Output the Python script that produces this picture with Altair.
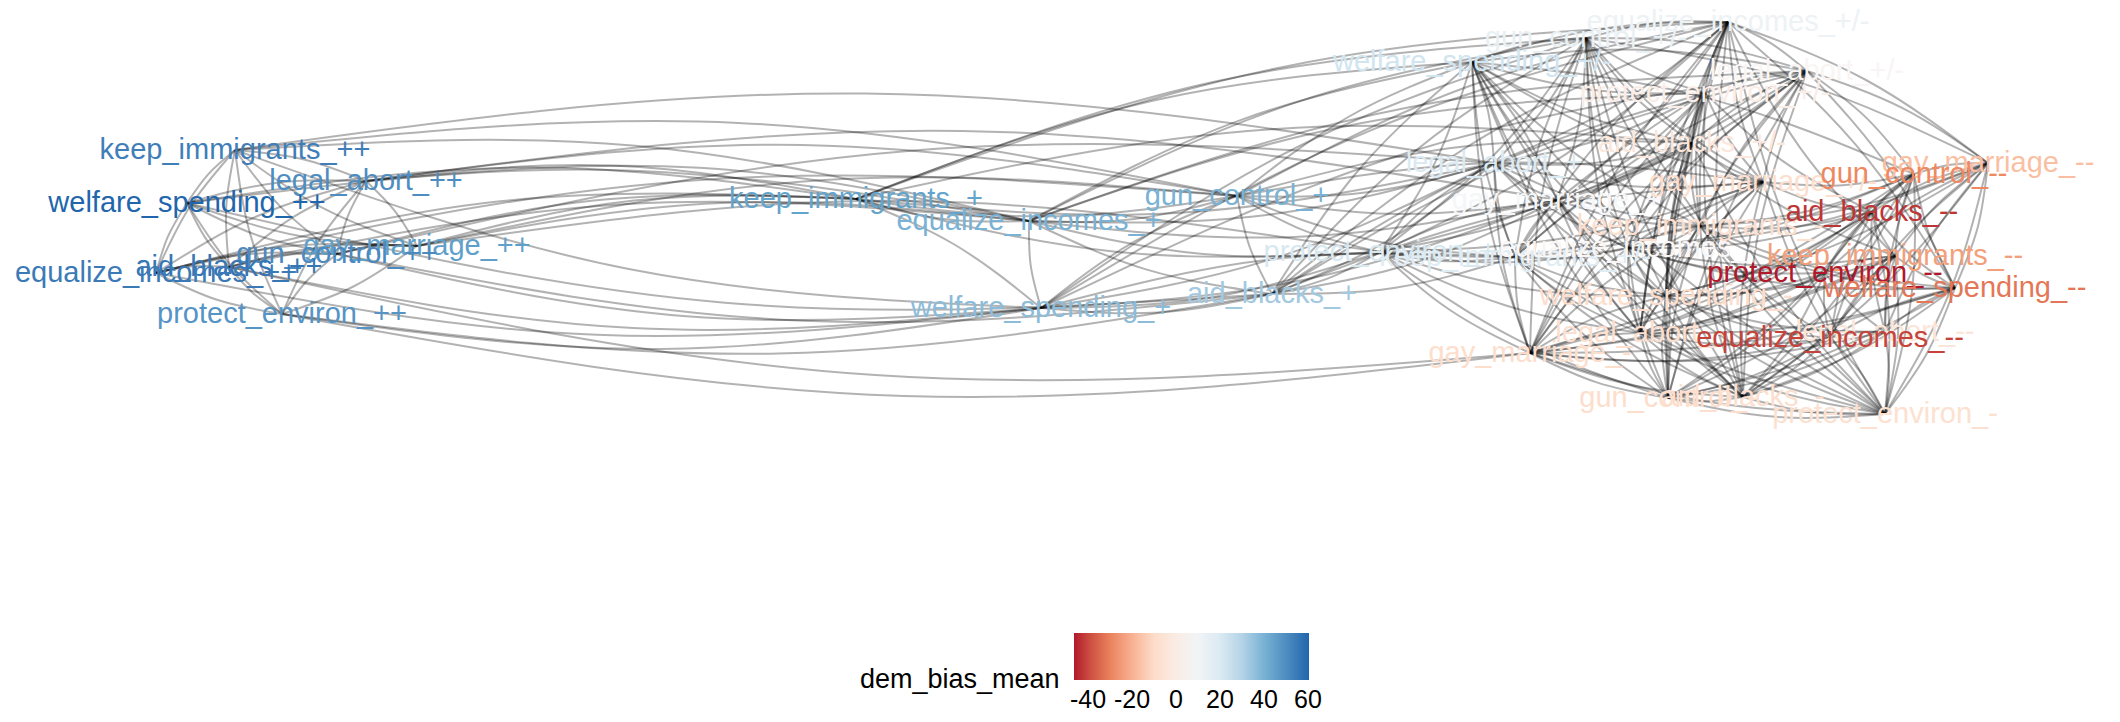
import altair as alt
import pandas as pd

# ---------------- data ----------------
node_names = [
    "keep_immigrants_++", "legal_abort_++", "welfare_spending_++", "gay_marriage_++",
    "gun_control_++", "aid_blacks_++", "equalize_incomes_++", "protect_environ_++",
    "keep_immigrants_+", "equalize_incomes_+", "gun_control_+", "welfare_spending_+",
    "aid_blacks_+", "legal_abort_+", "gay_marriage_+", "protect_environ_+",
    "welfare_spending_+/-", "gun_control_+/-", "equalize_incomes_+/-", "legal_abort_+/-",
    "protect_environ_+/-", "aid_blacks_+/-", "keep_immigrants_+/-", "gay_marriage_+/-",
    "keep_immigrants_-", "equalize_incomes_-", "welfare_spending_-", "legal_abort_-",
    "gay_marriage_-", "gun_control_-", "aid_blacks_-", "protect_environ_-",
    "gay_marriage_--", "gun_control_--", "aid_blacks_--", "keep_immigrants_--",
    "protect_environ_--", "welfare_spending_--", "legal_abort_--", "equalize_incomes_--",
]
node_codes = [
    "K1", "L1", "W1", "M1", "G1", "A1", "E1", "P1",
    "K2", "E2", "G2", "W2", "A2", "L2", "M2", "P2",
    "W3", "G3", "E3", "L3", "P3", "A3", "K3", "M3",
    "K4", "E4", "W4", "L4", "M4", "G4", "A4", "P4",
    "M5", "G5", "A5", "K5", "P5", "W5", "L5", "E5",
]
# layout coordinates (graph layout, y grows downward)
node_x = [
    235, 366, 187, 417, 337, 229, 156, 282,
    856, 1029, 1237, 1041, 1272, 1494, 1557, 1380,
    1472, 1586, 1728, 1807, 1705, 1692, 1515, 1763,
    1700, 1628, 1666, 1640, 1530, 1668, 1743, 1885,
    1988, 1914, 1872, 1895, 1825, 1955, 1885, 1830,
]
node_y = [
    150, 181, 203, 246, 254, 267, 273, 314,
    199, 221, 196, 308, 294, 163, 200, 252,
    62, 38, 22, 71, 93, 143, 257, 182,
    226, 248, 296, 333, 353, 398, 397, 414,
    163, 174, 212, 256, 273, 288, 332, 338,
]
dem_bias_mean = [
    54, 50, 60.5, 45, 51, 56, 55, 48,
    44, 40, 40, 37, 33, 20, 8, 22,
    25, 14, 12, 6, 1, -3, 18, -8,
    -8, 6, -9, -8, -9, -9, -8, -7,
    -17, -29, -43, -24, -46.4, -32, -4, -41,
]

edge_list = (
    # ++ cluster
    "L1 K1, M1 L1, P1 M1, E1 P1, W1 E1, K1 W1, K1 M1, K1 G1, K1 A1, K1 E1, K1 P1, "
    "L1 W1, L1 G1, L1 A1, L1 E1, L1 P1, W1 M1, W1 G1, W1 A1, W1 P1, M1 G1, M1 A1, "
    "M1 E1, G1 A1, G1 E1, G1 P1, A1 E1, A1 P1, "
    # ++ to the rest
    "E2 K1, G2 K1, L2 K1, K2 L1, G2 L1, M2 L1, E2 L1, K2 W1, E2 W1, K2 M1, E2 M1, "
    "P2 M1, G2 M1, K2 G1, L2 G1, K2 E1, G2 E1, E2 A1, K1 W2, W1 A2, G1 W2, G1 A2, "
    "A1 W2, A1 M4, E1 W2, P1 W2, P1 A2, P1 M4, "
    # + nodes
    "K2 E2, K2 G2, W2 K2, K2 L2, K2 P2, E2 G2, E2 W2, E2 A2, E2 M2, E2 P2, E2 L2, "
    "G2 A2, G2 W2, G2 L2, G2 M2, G2 P2, G2 K3, W2 A2, W2 P2, W2 M2, W2 L2, A2 P2, "
    "A2 M2, A2 L2, A2 K3, L2 M2, L2 P2, M2 P2, "
    "W3 K2, G3 K2, E3 K2, A3 K2, W3 E2, G3 E2, L3 E2, P3 E2, W3 G2, E3 G2, A3 G2, "
    "M3 G2, G3 W2, E3 W2, K3 W2, L3 W2, W3 A2, G3 A2, E3 A2, P3 A2, L3 A2, M3 A2, "
    "L2 W3, L2 G3, L2 E3, L2 P3, L2 A3, L2 K3, L2 M3, L2 K4, L2 E4, L2 W4, L2 M4, "
    "M2 W3, M2 G3, M2 E3, M2 L3, M2 P3, M2 A3, M2 K3, M2 K4, M2 E4, M2 W4, M2 L4, "
    "M2 A4, P2 W3, P2 G3, P2 E3, P2 L3, P2 A3, P2 K3, P2 M3, P2 K4, P2 E4, P2 W4, "
    "P2 L4, P2 M4, P2 G4, "
    # +/- nodes
    "G3 W3, E3 W3, L3 W3, W3 P3, W3 A3, W3 K3, W3 M3, E3 G3, L3 G3, G3 P3, G3 A3, "
    "G3 K3, G3 M3, L3 E3, E3 P3, E3 A3, E3 K3, E3 M3, L3 P3, L3 A3, L3 K3, L3 M3, "
    "P3 A3, P3 K3, P3 M3, A3 K3, A3 M3, K3 M3, "
    "W3 K4, W3 E4, W3 L4, W3 M4, W3 G4, W3 A4, W3 P4, G3 K4, G3 E4, G3 W4, G3 L4, "
    "G3 M4, G3 A4, G3 P4, E3 K4, E3 W4, E3 L4, E3 M4, E3 G4, E3 A4, E3 P4, L3 K4, "
    "L3 E4, L3 W4, L3 M4, L3 G4, L3 A4, P3 K4, P3 E4, P3 W4, P3 L4, P3 M4, P3 G4, "
    "P3 A4, A3 K4, A3 E4, A3 W4, A3 L4, A3 M4, A3 G4, A3 P4, K3 E4, K3 W4, K3 L4, "
    "K3 M4, K3 G4, K3 A4, K3 P4, M3 K4, M3 E4, M3 W4, M3 L4, M3 G4, M3 A4, M3 P4, "
    # - nodes
    "K4 E4, K4 W4, K4 L4, K4 M4, K4 G4, K4 A4, K4 P4, E4 W4, E4 L4, E4 M4, E4 G4, "
    "E4 A4, E4 P4, W4 L4, W4 M4, W4 G4, W4 A4, W4 P4, L4 M4, L4 G4, L4 A4, L4 P4, "
    "M4 G4, M4 A4, M4 P4, G4 A4, G4 P4, A4 P4, "
    "K4 M5, K4 G5, K4 A5, K4 P5, K4 W5, K4 E5, E4 M5, E4 G5, E4 A5, E4 K5, E4 P5, "
    "E4 W5, W4 M5, W4 A5, W4 K5, W4 P5, W4 L5, W4 E5, L4 G5, L4 A5, L4 K5, L4 P5, "
    "L4 W5, L4 E5, M4 G5, M4 A5, M4 K5, M4 P5, M4 W5, M4 L5, M4 E5, G4 A5, G4 K5, "
    "G4 P5, G4 W5, G4 L5, G4 E5, A4 M5, A4 G5, A4 K5, A4 P5, A4 W5, A4 L5, A4 E5, "
    "P4 M5, P4 G5, P4 A5, P4 K5, P4 W5, P4 L5, P4 E5, "
    # -- nodes
    "W5 M5, M5 G5, M5 A5, M5 K5, M5 P5, M5 L5, M5 E5, G5 A5, G5 K5, G5 P5, G5 W5, "
    "G5 L5, G5 E5, A5 K5, A5 P5, A5 W5, A5 L5, A5 E5, K5 P5, K5 W5, K5 L5, K5 E5, "
    "P5 W5, P5 L5, P5 E5, W5 L5, W5 E5, L5 E5, "
    "M5 E3, W5 E3, M5 L3, G5 L3, M5 G3, G5 W3, A3 K5, P3 A5, M3 G5, M3 A5, W5 L3, E3 K5"
)

legend_ticks = [-40, -20, 0, 20, 40, 60]
palette = ["#b2182b", "#ef8a62", "#fddbc7", "#f7f7f7", "#d1e5f0", "#67a9cf", "#2166ac"]

# ---------------- tables ----------------
nodes = pd.DataFrame({
    "name": node_names, "code": node_codes,
    "x": node_x, "y": node_y, "dem_bias_mean": dem_bias_mean,
})
pairs = [p.split() for p in edge_list.split(",") if p.strip()]
edges = pd.DataFrame(pairs, columns=["src", "tgt"])
edges["eid"] = range(len(edges))
pos = nodes.set_index("code")[["x", "y"]]
edges = edges.join(pos.rename(columns={"x": "x1", "y": "y1"}), on="src")
edges = edges.join(pos.rename(columns={"x": "x2", "y": "y2"}), on="tgt")

vmin, vmax = min(dem_bias_mean), max(dem_bias_mean)
stops = [vmin + i * (vmax - vmin) / (len(palette) - 1) for i in range(len(palette))]

W, H = 2104, 706
xscale = alt.Scale(domain=[8, 8 + W], nice=False, zero=False)
yscale = alt.Scale(domain=[8, 8 + H], nice=False, zero=False, reverse=True)

bend = 0.05
edge_layer = (
    alt.Chart(edges)
    .transform_calculate(
        xs=f"[datum.x1, (datum.x1 + datum.x2) / 2 - {bend} * (datum.y2 - datum.y1), datum.x2]",
        ys=f"[datum.y1, (datum.y1 + datum.y2) / 2 + {bend} * (datum.x2 - datum.x1), datum.y2]",
        ord="[0, 1, 2]",
    )
    .transform_flatten(["xs", "ys", "ord"])
    .mark_line(interpolate="natural", color="black", opacity=0.3, strokeWidth=2)
    .encode(
        x=alt.X("xs:Q", scale=xscale, axis=None),
        y=alt.Y("ys:Q", scale=yscale, axis=None),
        detail="eid:N",
        order="ord:Q",
    )
)

label_layer = (
    alt.Chart(nodes)
    .mark_text(font="Liberation Sans", fontSize=29, align="center", baseline="middle")
    .encode(
        x=alt.X("x:Q", scale=xscale, axis=None),
        y=alt.Y("y:Q", scale=yscale, axis=None),
        text="name:N",
        color=alt.Color(
            "dem_bias_mean:Q",
            scale=alt.Scale(domain=stops, range=palette, interpolate="lab"),
            legend=alt.Legend(
                title="dem_bias_mean",
                orient="none",
                legendX=852,
                legendY=625,
                direction="horizontal",
                gradientLength=235,
                gradientThickness=47,
                gradientStrokeWidth=0,
                titleOrient="left",
                titleAnchor="end",
                titleBaseline="middle",
                titlePadding=14,
                titleLimit=400,
                titleFont="Liberation Sans",
                titleFontSize=27,
                titleFontWeight="normal",
                titleColor="black",
                labelFont="Liberation Sans",
                labelFontSize=25,
                labelColor="black",
                labelOffset=8,
                labelOverlap=False,
                labelExpr="'' + datum.value",
                values=legend_ticks,
            ),
        ),
    )
)

chart = (
    alt.layer(edge_layer, label_layer)
    .properties(width=W, height=H, padding=0, autosize=alt.AutoSizeParams(type="none"))
    .configure_view(stroke=None)
)

chart.save("out.html", embed_options={"renderer": "svg", "actions": False})
